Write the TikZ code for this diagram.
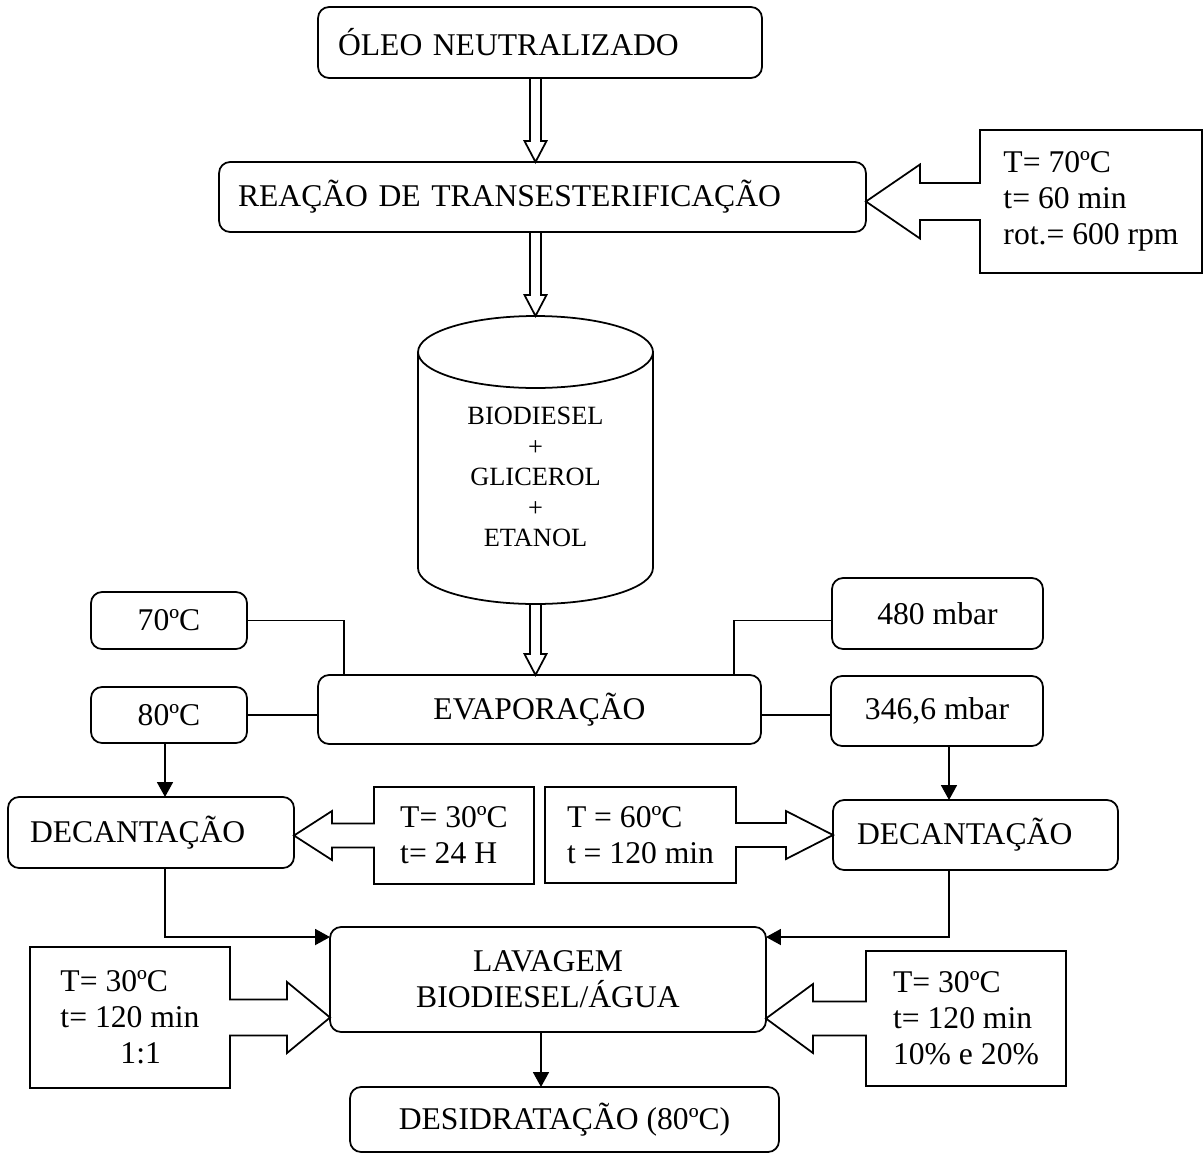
\documentclass[tikz,border=0pt]{standalone}
\usepackage{fontspec}
\setmainfont{Liberation Serif}
\usetikzlibrary{arrows.meta, calc}

\tikzstyle{linha} = [line width=1pt]
\tikzstyle{caixa} = [draw, line width=1pt, rounded corners=0.22cm, outer sep=0pt, font=\fontsize{18}{20.5}\selectfont, align=center]
\tikzstyle{caixaesq} = [caixa, align=left]
\tikzstyle{cond} = [outer sep=0pt, font=\fontsize{18}{20.5}\selectfont, align=left]
\tikzstyle{seta} = [line width=1pt, -{Triangle[length=0.3cm, width=0.32cm]}]

% seta vazada vertical de #1 ate #2
\newcommand{\setaoca}[2]{%
  \draw[linha] let \p1 = (#1), \p2 = (#2) in
    (\x2-0.11cm,\y1) -- (\x2-0.11cm,\y2+0.42cm) -- (\x2-0.22cm,\y2+0.42cm) -- (\p2)
    -- (\x2+0.22cm,\y2+0.42cm) -- (\x2+0.11cm,\y2+0.42cm) -- (\x2+0.11cm,\y1);}

% caixa de condicoes com seta: caixa, ponta, meia haste, meia cabeca, comprimento da cabeca, lado, lado oposto
\newcommand{\chamada}[7]{%
  \draw[linha] let \p1 = (#1.north #6), \p3 = (#2) in
    (\x1,\y3+#3) -- (#1.north #6) -- (#1.north #7) -- (#1.south #7)
    -- (#1.south #6) -- (\x1,\y3-#3) -- (\x3+#5,\y3-#3) -- (\x3+#5,\y3-#4)
    -- (\p3) -- (\x3+#5,\y3+#4) -- (\x3+#5,\y3+#3) -- cycle;}

\begin{document}
\begin{tikzpicture}[x=0.02cm, y=-0.02cm]
    \useasboundingbox (0,0) rectangle (1203,1153);

        % Etapas principais
        \node (oleo) [caixaesq, inner xsep=0.4cm, text width=8.08cm, minimum height=1.42cm] at (540,42.5) {ÓLEO NEUTRALIZADO};
        \node (reacao) [caixaesq, inner xsep=0.38cm, text width=12.18cm, minimum height=1.4cm] at (542.5,197) {REAÇÃO DE TRANSESTERIFICAÇÃO};
        \node (evap) [caixa, minimum width=8.86cm, minimum height=1.38cm] at (539.5,709.5) {EVAPORAÇÃO};
        \node (decesq) [caixaesq, inner xsep=0.44cm, text width=4.84cm, minimum height=1.42cm] at (151,832.5) {DECANTAÇÃO};
        \node (decdir) [caixaesq, inner xsep=0.48cm, text width=4.74cm, minimum height=1.4cm] at (975.5,835) {DECANTAÇÃO};
        \node (lavagem) [caixa, minimum width=8.72cm, minimum height=2.1cm] at (548,979.5) {LAVAGEM\\BIODIESEL/ÁGUA};
        \node (desid) [caixa, minimum width=8.58cm, minimum height=1.3cm] at (564.5,1119.5) {DESIDRATAÇÃO (80ºC)};

        % Temperaturas e pressoes da evaporacao
        \node (t70) [caixa, minimum width=3.12cm, minimum height=1.14cm] at (169,620.5) {70ºC};
        \node (t80) [caixa, minimum width=3.12cm, minimum height=1.12cm] at (169,715) {80ºC};
        \node (t480) [caixa, minimum width=4.22cm, minimum height=1.42cm] at (937.5,613.5) {480 mbar};
        \node (t346) [caixa, minimum width=4.24cm, minimum height=1.4cm] at (937,711) {346,6 mbar};

        % Condicoes
        \node (condreacao) [cond, minimum width=4.44cm, minimum height=2.86cm] at (1091,201.5) {T= 70ºC\\t= 60 min\\rot.= 600 rpm};
        \node (conddecesq) [cond, minimum width=3.2cm, minimum height=1.94cm] at (454,835.5) {T= 30ºC\\t= 24 H};
        \node (conddecdir) [cond, minimum width=3.82cm, minimum height=1.92cm] at (640.5,835) {T = 60ºC\\t = 120 min};
        \node (condlavesq) [cond, minimum width=4cm, minimum height=2.82cm] at (130,1017.5) {T= 30ºC\\t= 120 min\\\hspace*{1.2cm}1:1};
        \node (condlavdir) [cond, minimum width=4cm, minimum height=2.7cm] at (966,1018.5) {T= 30ºC\\t= 120 min\\10\% e 20\%};

        % Reator
        \coordinate (cilt) at (535.5,316);
        \coordinate (cilb) at (535.5,604);
        \draw[linha] (535.5,352) ellipse [x radius=2.35cm, y radius=0.72cm];
        \draw[linha] (418,352) -- (418,568) arc[start angle=180, end angle=360, x radius=2.35cm, y radius=0.72cm] -- (653,352);
        \node (cil) [font=\fontsize{15}{17.4}\selectfont, align=center] at (535.5,477) {BIODIESEL\\+\\GLICEROL\\+\\ETANOL};

        % Setas vazadas
        \setaoca{oleo.south -| cil}{reacao.north -| cil}
        \setaoca{reacao.south -| cil}{cilt}
        \setaoca{cilb}{evap.north -| cil}

        % Ligacoes da evaporacao
        \draw[linha] (t70.east) -| ([xshift=0.52cm]evap.north west);
        \draw[linha] (t80.east) -- (t80.east -| evap.west);
        \draw[linha] (t480.west |- t70.east) -| ([xshift=-0.54cm]evap.north east);
        \draw[linha] (evap.east |- t80.east) -- (t346.west |- t80.east);

        % Setas
        \coordinate (xesq) at (165,0);
        \coordinate (xdir) at (949,0);
        \coordinate (xmeio) at (541,0);
        \draw[seta] (t80.south -| xesq) -- (decesq.north -| xesq);
        \draw[seta] (t346.south -| xdir) -- (decdir.north -| xdir);
        \draw[seta] (decesq.south -| xesq) |- ([yshift=-0.2cm]lavagem.north west);
        \draw[seta] (decdir.south -| xdir) |- ([yshift=-0.2cm]lavagem.north east);
        \draw[seta] (lavagem.south -| xmeio) -- (desid.north -| xmeio);

        % Caixas de condicoes com seta
        \chamada{condreacao}{reacao.east |- condreacao}{0.37cm}{0.74cm}{1.08cm}{west}{east}
        \chamada{conddecesq}{decesq.east |- conddecesq}{0.24cm}{0.49cm}{0.76cm}{west}{east}
        \chamada{conddecdir}{decdir.west |- conddecdir}{0.24cm}{0.48cm}{-0.94cm}{east}{west}
        \chamada{condlavesq}{lavagem.west |- condlavesq}{0.36cm}{0.71cm}{-0.86cm}{east}{west}
        \chamada{condlavdir}{lavagem.east |- condlavdir}{0.34cm}{0.69cm}{0.94cm}{west}{east}

\end{tikzpicture}
\end{document}
